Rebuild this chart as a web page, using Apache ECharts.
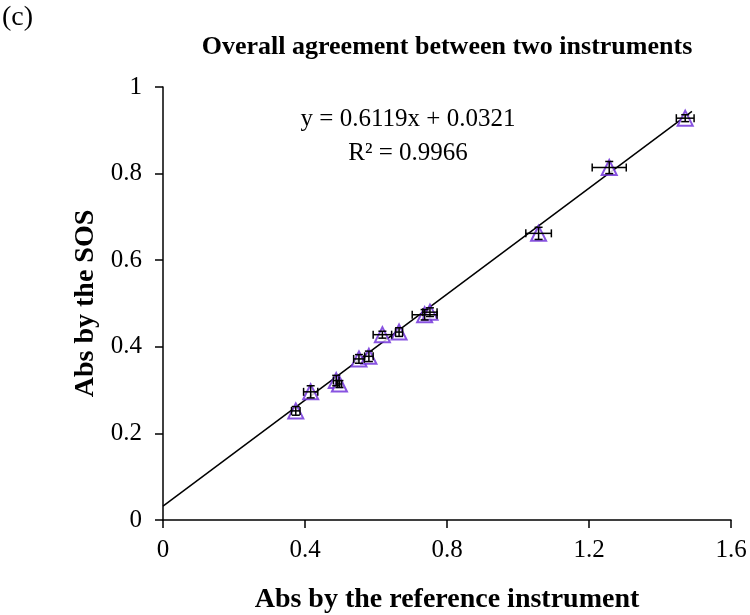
<!DOCTYPE html>
<html>
<head>
<meta charset="utf-8">
<script src="https://cdn.jsdelivr.net/npm/echarts@6/dist/echarts.min.js"></script>
<style>html,body{margin:0;padding:0;background:#fff;}#c{width:750px;height:615px;}</style>
</head>
<body>
<div id="c"></div>
<script>
// Data
const xVals = [0.374, 0.416, 0.488, 0.497, 0.552, 0.580, 0.618, 0.665, 0.737, 0.752, 1.058, 1.257, 1.471];
const yVals = [0.252, 0.296, 0.322, 0.314, 0.372, 0.378, 0.428, 0.434, 0.474, 0.480, 0.662, 0.814, 0.928];
const xErr  = [0.012, 0.020, 0.008, 0.006, 0.015, 0.012, 0.026, 0.010, 0.035, 0.020, 0.036, 0.048, 0.025];
const yErr  = [0.010, 0.014, 0.012, 0.008, 0.010, 0.012, 0.008, 0.010, 0.012, 0.010, 0.014, 0.014, 0.008];
const slope = 0.6119, intercept = 0.0321;
const trendX = [0, 1.49];
const xTicks = [0, 0.4, 0.8, 1.2, 1.6];
const yTicks = [0, 0.2, 0.4, 0.6, 0.8, 1];

const FONT = 'Liberation Serif';
const pts = xVals.map((x, i) => [x, yVals[i], xErr[i], yErr[i]]);
const trend = trendX.map(x => [x, slope * x + intercept]);

const chart = echarts.init(document.getElementById('c'));
chart.setOption({
  animation: false,
  backgroundColor: '#fff',
  grid: { left: 163, right: 19, top: 87, bottom: 95, containLabel: false, outerBoundsMode: 'none' },
  xAxis: {
    type: 'value', min: xTicks[0], max: xTicks[xTicks.length - 1], interval: 0.4,
    name: 'Abs by the reference instrument', nameLocation: 'middle', nameGap: 66,
    nameTextStyle: { fontFamily: FONT, fontWeight: 'bold', fontSize: 28, color: '#000' },
    axisLine: { lineStyle: { color: '#000', width: 1.5 } },
    axisTick: { show: true, inside: false, length: 8, lineStyle: { color: '#000', width: 1.5 } },
    axisLabel: { fontFamily: FONT, fontSize: 25, color: '#000', margin: 18,
      formatter: v => String(+v.toFixed(1)) },
    splitLine: { show: false }
  },
  yAxis: {
    type: 'value', min: yTicks[0], max: yTicks[yTicks.length - 1], interval: 0.2,
    name: 'Abs by the SOS', nameLocation: 'middle', nameGap: 61,
    nameTextStyle: { fontFamily: FONT, fontWeight: 'bold', fontSize: 28, color: '#000' },
    axisLine: { show: true, lineStyle: { color: '#000', width: 1.5 } },
    axisTick: { show: true, inside: false, length: 8, lineStyle: { color: '#000', width: 1.5 } },
    axisLabel: { fontFamily: FONT, fontSize: 25, color: '#000', margin: 21,
      formatter: v => String(+v.toFixed(1)) },
    splitLine: { show: false }
  },
  graphic: [
    { type: 'text', left: 2, top: 4, style: { text: '(c)', font: '28px "Liberation Serif"', fill: '#000' } },
    { type: 'text', x: 447, y: 47, style: { text: 'Overall agreement between two instruments', font: 'bold 26px "Liberation Serif"', fill: '#000', textAlign: 'center', textVerticalAlign: 'middle' } },
    { type: 'text', x: 408, y: 119, style: { text: 'y = 0.6119x + 0.0321', font: '25px "Liberation Serif"', fill: '#000', textAlign: 'center', textVerticalAlign: 'middle' } },
    { type: 'text', x: 408, y: 153, style: { text: 'R² = 0.9966', font: '25px "Liberation Serif"', fill: '#000', textAlign: 'center', textVerticalAlign: 'middle' } }
  ],
  series: [
    {
      type: 'line', data: trend, symbol: 'none', z: 2,
      lineStyle: { color: '#000', width: 1.5 }
    },
    {
      type: 'scatter', data: pts, symbol: 'emptyTriangle', symbolSize: 15, z: 3,
      itemStyle: { color: '#6a28d8', borderColor: '#6a28d8', borderWidth: 2.2 }
    },
    {
      type: 'custom', data: pts, z: 4,
      renderItem: function (params, api) {
        const x = api.value(0), y = api.value(1), ex = api.value(2), ey = api.value(3);
        const l = api.coord([x - ex, y]), r = api.coord([x + ex, y]);
        const t = api.coord([x, y + ey]), b = api.coord([x, y - ey]);
        const cap = 4;
        const st = { stroke: '#000', lineWidth: 1.5 };
        return {
          type: 'group',
          children: [
            { type: 'line', shape: { x1: l[0], y1: l[1], x2: r[0], y2: r[1] }, style: st },
            { type: 'line', shape: { x1: l[0], y1: l[1] - cap, x2: l[0], y2: l[1] + cap }, style: st },
            { type: 'line', shape: { x1: r[0], y1: r[1] - cap, x2: r[0], y2: r[1] + cap }, style: st },
            { type: 'line', shape: { x1: t[0], y1: t[1], x2: b[0], y2: b[1] }, style: st },
            { type: 'line', shape: { x1: t[0] - cap, y1: t[1], x2: t[0] + cap, y2: t[1] }, style: st },
            { type: 'line', shape: { x1: b[0] - cap, y1: b[1], x2: b[0] + cap, y2: b[1] }, style: st }
          ]
        };
      }
    }
  ]
});
</script>
</body>
</html>
